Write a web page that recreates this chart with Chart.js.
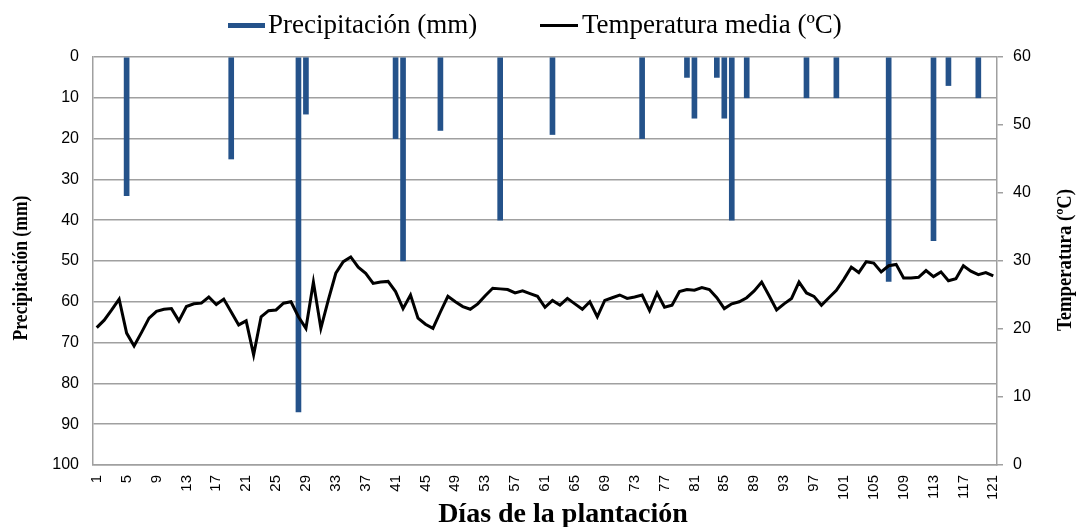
<!DOCTYPE html>
<html>
<head>
<meta charset="utf-8">
<script src="https://cdn.jsdelivr.net/npm/chart.js@4/dist/chart.umd.min.js"></script>
<style>
  html, body { margin: 0; padding: 0; background: #fff; }
  #wrap { width: 1080px; height: 527px; }
</style>
</head>
<body>
<div id="wrap"><canvas id="chart" width="1080" height="527"></canvas></div>
<script>
// días de la plantación 1..121
const dias = [];
for (let d = 1; d <= 121; d++) dias.push(String(d));

// días con lluvia y su precipitación (mm)
const diasLluvia = [5, 19, 28, 29, 41, 42, 47, 55, 62, 74, 80, 81, 84, 85, 86, 88, 96, 100, 107, 113, 115, 119];
const lluviaMm   = [34, 25, 87, 14, 20, 50, 18, 40, 19, 20, 5, 15, 5, 15, 40, 10, 10, 10, 55, 45, 7, 10];

// temperatura media diaria (ºC)
const temperatura = [
  20.2, 21.3, 22.8, 24.4, 19.4, 17.5, 19.5, 21.6, 22.6, 22.9,
  23.0, 21.2, 23.3, 23.7, 23.8, 24.7, 23.6, 24.4, 22.5, 20.6,
  21.2, 16.2, 21.8, 22.7, 22.8, 23.8, 24.0, 21.8, 20.1, 26.9,
  20.1, 24.3, 28.2, 29.9, 30.6, 29.1, 28.2, 26.7, 26.9, 27.0,
  25.5, 23.0, 25.0, 21.6, 20.7, 20.1, 22.5, 24.8, 24.0, 23.3,
  22.9, 23.7, 24.9, 26.0, 25.9, 25.8, 25.3, 25.6, 25.2, 24.8,
  23.2, 24.2, 23.5, 24.5, 23.7, 22.9, 24.0, 21.8, 24.2, 24.6,
  25.0, 24.5, 24.7, 25.0, 22.7, 25.3, 23.2, 23.5, 25.5, 25.8,
  25.7, 26.1, 25.8, 24.6, 23.0, 23.7, 24.0, 24.6, 25.6, 26.9,
  24.9, 22.8, 23.7, 24.5, 26.9, 25.3, 24.8, 23.5, 24.6, 25.7,
  27.3, 29.1, 28.3, 29.9, 29.7, 28.4, 29.3, 29.5, 27.5, 27.5,
  27.6, 28.6, 27.7, 28.4, 27.1, 27.4, 29.3, 28.5, 28.0, 28.3,
  27.8
];

// días sin lluvia quedan vacíos
const precipitacion = dias.map(() => null);
diasLluvia.forEach((d, i) => { precipitacion[d - 1] = lluviaMm[i]; });

const serif = "'Liberation Serif', 'Times New Roman', serif";
const sans = "'Liberation Sans', Arial, sans-serif";
const azul = '#24528a';
const gris = '#a0a0a0';

// texto girado y estrechado (títulos de ejes verticales)
function textoVertical(ctx, txt, x, y, size, escala) {
  ctx.save();
  ctx.translate(x, y);
  ctx.rotate(-Math.PI / 2);
  ctx.scale(escala, 1);
  ctx.font = 'bold ' + size + 'px ' + serif;
  ctx.fillStyle = '#000';
  ctx.textAlign = 'center';
  ctx.textBaseline = 'middle';
  ctx.fillText(txt, 0, 0);
  ctx.restore();
}

// leyenda y títulos a mano
const rotulos = {
  id: 'rotulos',
  afterDraw(chart) {
    const ctx = chart.ctx;
    const ds = chart.data.datasets;
    ctx.save();
    ctx.font = '27px ' + serif;
    ctx.textBaseline = 'middle';
    ctx.textAlign = 'left';
    ctx.fillStyle = azul;
    ctx.fillRect(228, 23, 37, 5);
    ctx.fillStyle = '#000';
    ctx.fillText(ds[0].label, 268, 26);
    ctx.fillRect(540, 24, 38, 3);
    ctx.fillText(ds[1].label, 582, 26);

    ctx.font = 'bold 28px ' + serif;
    ctx.textAlign = 'center';
    ctx.fillText('Días de la plantación', 563, 515);
    ctx.restore();

    textoVertical(ctx, 'Precipitación (mm)', 21, 268, 22, 0.8);
    textoVertical(ctx, 'Temperatura (ºC)', 1065, 260, 22, 0.85);
  }
};

new Chart(document.getElementById('chart'), {
  type: 'bar',
  data: {
    labels: dias,
    datasets: [{
      label: 'Precipitación (mm)',
      data: precipitacion,
      backgroundColor: azul,
      barThickness: 5,
      yAxisID: 'y',
      order: 2
    }, {
      type: 'line',
      label: 'Temperatura media (ºC)',
      data: temperatura,
      borderColor: '#000',
      backgroundColor: '#000',
      borderWidth: 3,
      pointRadius: 0,
      tension: 0,
      yAxisID: 'y1',
      order: 1
    }]
  },
  options: {
    responsive: false,
    animation: false,
    layout: { padding: { top: 57, right: 0, left: 0, bottom: 0 } },
    plugins: {
      tooltip: { enabled: false },
      legend: { display: false }
    },
    scales: {
      x: {
        afterFit(scale) { scale.height = 62; },
        grid: { display: false, drawTicks: false },
        border: { color: gris, width: 1.5 },
        ticks: {
          autoSkip: false,
          minRotation: 90,
          maxRotation: 90,
          padding: 10,
          font: { family: sans, size: 15 },
          color: '#000',
          callback(val, i) { return i % 4 === 0 ? this.getLabelForValue(val) : ''; }
        }
      },
      y: {
        afterFit(scale) { scale.width = 93; },
        position: 'left',
        reverse: true,
        min: 0,
        max: 100,
        ticks: { stepSize: 10, font: { family: sans, size: 16 }, color: '#000', padding: 14 },
        grid: { color: gris, lineWidth: 1.5, drawTicks: false },
        border: { color: gris, width: 1.5 }
      },
      y1: {
        afterFit(scale) { scale.width = 83; },
        position: 'right',
        min: 0,
        max: 60,
        ticks: { stepSize: 10, font: { family: sans, size: 16 }, color: '#000', padding: 10 },
        grid: { drawOnChartArea: false, color: gris, lineWidth: 1.5, tickLength: 6 },
        border: { color: gris, width: 1.5 }
      }
    }
  },
  plugins: [rotulos]
});
</script>
</body>
</html>
